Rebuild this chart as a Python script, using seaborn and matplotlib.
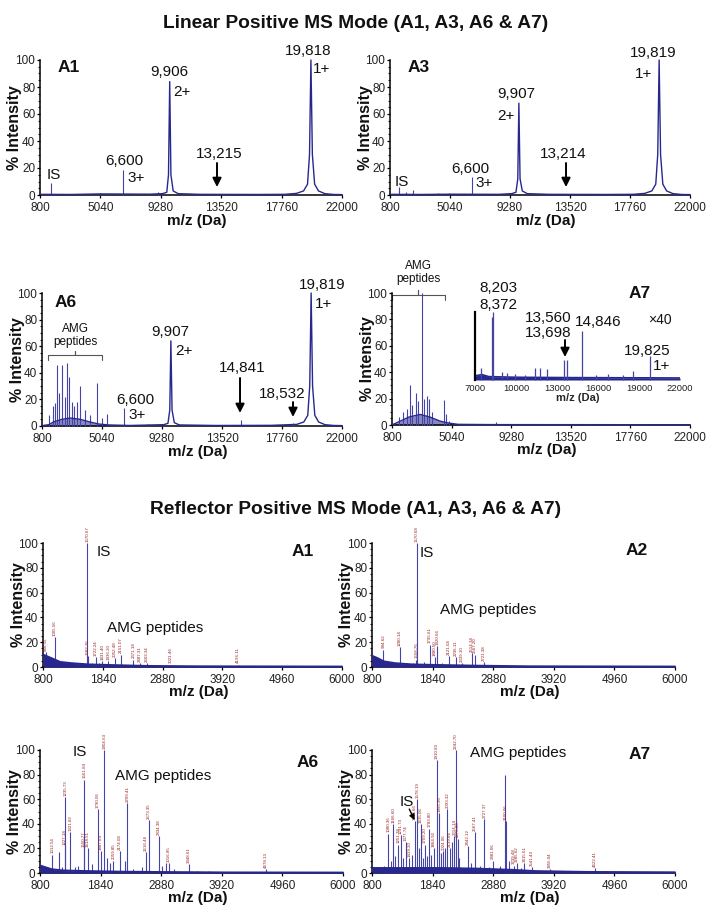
import matplotlib
matplotlib.use("Agg")
import matplotlib.pyplot as plt
from matplotlib.ticker import MultipleLocator, FixedLocator
import seaborn as sns

# ------------------------------------------------------------------ data
lin_xticks = [800, 5040, 9280, 13520, 17760, 22000]
ref_xticks = [800, 1840, 2880, 3920, 4960, 6000]
inset_xticks = [7000, 10000, 13000, 16000, 19000, 22000]
y_ticks = [0, 20, 40, 60, 80, 100]

# Linear mode, A1
lin_a1_prof_mz = [800, 3000, 5000, 8500, 9400, 9700, 9820, 9906, 9990, 10150, 10500, 12000, 16000,
                  18000, 18800, 19300, 19580, 19720, 19818, 19920, 20080, 20350, 20800, 21400, 22000]
lin_a1_prof_int = [0.5, 0.4, 0.8, 0.6, 1, 2, 15, 84, 15, 3, 1, 0.5, 0.4,
                   0.5, 1.2, 3, 8, 30, 100, 30, 8, 3, 1, 0.4, 0.3]
lin_a1_stick_mz = [1570, 5040, 6600, 9050, 13215]
lin_a1_stick_int = [9, 1.5, 18.5, 2, 1]

# Linear mode, A3
lin_a3_prof_mz = [800, 3000, 5000, 8500, 9400, 9700, 9830, 9907, 9990, 10150, 10500, 12000, 16000,
                  18000, 18800, 19300, 19580, 19720, 19819, 19920, 20080, 20350, 20800, 21400, 22000]
lin_a3_prof_int = [0.5, 0.4, 0.6, 0.5, 1, 2, 12, 68, 12, 3, 1, 0.5, 0.4,
                   0.5, 1.2, 3, 8, 30, 100, 30, 8, 3, 1, 0.4, 0.3]
lin_a3_stick_mz = [1436, 1900, 2425, 4200, 5000, 6600, 13214]
lin_a3_stick_int = [6, 2.5, 4, 1.2, 1.2, 13.5, 1]

# Linear mode, A6
lin_a6_prof_mz = [800, 1300, 1600, 2200, 2800, 3500, 4200, 4800, 5500, 7000, 9400, 9700, 9830, 9907,
                  9990, 10150, 10500, 13000, 17000, 18800, 19300, 19580, 19720, 19819, 19920, 20080,
                  20350, 20800, 21400, 22000]
lin_a6_prof_int = [0.3, 1, 3, 5, 6, 5, 3, 1.5, 0.8, 0.4, 1, 2, 12, 64,
                   12, 2.5, 0.8, 0.4, 0.5, 1.2, 3, 8, 30, 100, 30, 8,
                   3, 1, 0.4, 0.3]
lin_a6_stick_mz = [1316, 1600, 1718, 1882, 2024, 2192, 2425, 2542, 2708, 2897, 3061, 3250, 3485,
                   3839, 4192, 4665, 5019, 5372, 6600, 8300, 14841, 18532]
lin_a6_stick_int = [8, 15, 17, 46, 25, 46, 22, 47, 37, 18, 15, 18, 30,
                    12, 8, 32, 6, 9, 13.5, 1.5, 4.5, 2.5]

# Linear mode, A7
lin_a7_prof_mz = [800, 1000, 1400, 2000, 2800, 3500, 4200, 4800, 5500, 8000, 22000]
lin_a7_prof_int = [0.3, 1, 3, 6, 8, 6, 3, 1.5, 0.5, 0.3, 0.2]
lin_a7_stick_mz = [1322, 1606, 1843, 2081, 2199, 2484, 2673, 2911, 3076, 3266, 3432, 3622, 4499,
                   4641, 4879, 8198, 14767]
lin_a7_stick_int = [6, 10, 12, 30, 15, 24, 18, 100, 20, 22, 20, 10, 19,
                    8, 3, 2, 1]

# Linear mode, A7 inset (x40)
inset_base_mz = [7000, 7500, 8000, 10000, 14000, 22000]
inset_base_int = [6, 8, 5, 4, 3.5, 3]
inset_stick_mz = [7417, 8220, 8342, 8951, 9317, 9927, 10659, 11390, 11756, 12293, 13512, 13707,
                  14807, 15854, 16757, 17851, 18538, 19805]
inset_stick_int = [18, 93, 100, 12, 10, 9, 8, 17, 18, 16, 29, 29,
                   72, 7, 9, 7, 13, 36]

# Reflector mode, A1
ref_a1_base_mz = [800, 850, 950, 1100, 1300, 1600, 2000, 2600, 3500, 6000]
ref_a1_base_int = [10, 9, 7, 4, 3, 2, 1.5, 0.8, 0.5, 0.3]
ref_a1_mz = [846.55, 1005.56, 1570.67, 1582.76, 1722.24, 1831.40, 1936.20, 2052.48, 2151.07,
             2371.18, 2487.31, 2603.34, 3021.46, 4196.11]
ref_a1_int = [12, 24, 100, 9, 8, 5, 5, 7, 10, 6, 3, 3, 2, 2]
ref_a1_minor_mz = [900, 1100, 1200, 1300, 1400, 1500, 1650, 1780, 1880, 2000, 2250, 2700, 3300,
                   3700, 4500, 5200]
ref_a1_minor_int = [6, 3.5, 3, 3, 2.5, 3, 3, 3, 2.5, 2, 2, 1.2, 1, 0.8, 0.6, 0.5]

# Reflector mode, A2
ref_a2_base_mz = [800, 900, 1000, 1200, 1500, 2000, 2600, 3500, 6000]
ref_a2_base_int = [9, 7, 4.5, 3, 2, 1.5, 1, 0.5, 0.3]
ref_a2_mz = [994.62, 1280.14, 1558.76, 1570.68, 1795.61, 1880.50, 1920.66, 2121.04, 2236.11,
             2339.10, 2514.34, 2567.20, 2721.38]
ref_a2_int = [14, 16, 6, 100, 18, 8, 17, 9, 8, 3, 11, 10, 4]
ref_a2_minor_mz = [900, 1100, 1200, 1400, 1500, 1700, 2000, 2400, 2800, 3100, 3500, 4200, 5000]
ref_a2_minor_int = [5, 3, 3, 3, 3, 4, 3, 2, 1.5, 1, 0.8, 0.8, 0.5]

# Reflector mode, A6
ref_a6_base_mz = [800, 900, 1000, 1200, 1600, 2200, 3000, 4000, 6000]
ref_a6_base_int = [6, 4.5, 3, 2, 1.5, 1, 0.7, 0.4, 0.3]
ref_a6_mz = [1012.54, 1227.18, 1235.73, 1321.82, 1550.77, 1561.84, 1618.51, 1790.06, 1847.64,
             1904.63, 2059.85, 2174.08, 2299.41, 2616.46, 2673.35, 2834.38, 3016.85, 3348.61,
             4678.13]
ref_a6_int = [15, 22, 62, 33, 20, 76, 20, 52, 18, 100, 10, 18, 57, 17, 43, 30, 8, 7, 3]
ref_a6_minor_mz = [1121, 1180, 1400, 1450, 1700, 1950, 2000, 2260, 2400, 2550, 2900, 2960, 3100,
                   3500, 3700, 4000, 5000]
ref_a6_minor_int = [17, 5, 5, 6, 7, 12, 8, 10, 3, 5, 6, 8, 3, 2, 1.5, 1, 0.8]

# Reflector mode, A7
ref_a7_base_mz = [800, 1200, 2000, 2600, 3200, 3600, 4500, 6000]
ref_a7_base_int = [4, 4, 4, 3.5, 2.5, 1.5, 0.8, 0.5]
ref_a7_mz = [1080.36, 1166.60, 1251.78, 1291.73, 1377.74, 1439.20, 1538.66, 1578.19, 1635.06,
             1709.20, 1783.80, 1864.92, 1910.83, 1955.36, 2024.06, 2093.32, 2139.66, 2214.14,
             2242.70, 2276.06, 2442.12, 2567.41, 2727.37, 2881.06, 3100.06, 3239.48,
             3285.62, 3415.61, 3541.43, 3855.04, 4622.41]
ref_a7_int = [32, 40, 23, 31, 25, 12, 42, 60, 40, 23, 36, 20, 92, 49, 18, 52, 20, 30,
              100, 28, 22, 33, 44, 10, 42, 6, 8, 8, 5, 3, 4]
ref_a7_minor_mz = [1000, 1120, 1200, 1330, 1480, 1600, 1680, 1740, 1820, 1990, 2060, 2180, 2300,
                   2500, 2650, 2800, 3000, 3085, 3150, 3350, 3700, 4000, 4300, 5000]
ref_a7_minor_int = [6, 10, 14, 12, 15, 20, 12, 14, 15, 16, 20, 25, 12, 8, 6, 5, 6, 80, 10, 4, 2,
                    2, 1.5, 1]

# ------------------------------------------------------------------ style
sns.set_theme(style="ticks")
plt.rcParams['font.family'] = ['Liberation Sans', 'DejaVu Sans']
plt.rcParams['axes.linewidth'] = 1.1

NAVY = '#27278f'
PEAK = '#4444a6'
LABEL_RED = '#9a2020'

W, H = 712, 910
fig = plt.figure(figsize=(W / 100, H / 100), dpi=100)


def box(l, r, t, b):
    return [l / W, 1 - b / H, (r - l) / W, (b - t) / H]


def setup(ax, xlim, xticks, xlab_y, ylab_x=-0.058):
    ax.set_xlim(*xlim)
    ax.set_ylim(0, 100)
    ax.xaxis.set_major_locator(FixedLocator(xticks))
    ax.set_xticklabels([str(v) for v in xticks])
    ax.yaxis.set_major_locator(FixedLocator(y_ticks))
    ax.yaxis.set_minor_locator(MultipleLocator(5))
    ax.tick_params(axis='both', which='major', labelsize=8.5, length=2.5, width=0.9, pad=1,
                   colors='black', labelcolor='#222222')
    ax.tick_params(axis='x', which='major', pad=2.5)
    ax.tick_params(axis='y', which='minor', length=1.8, width=0.8)
    ax.tick_params(axis='x', which='minor', length=0)
    for s in ('top', 'right'):
        ax.spines[s].set_visible(False)
    for s in ('left', 'bottom'):
        ax.spines[s].set_color('black')
    ax.set_facecolor('white')
    ax.set_xlabel('m/z (Da)', fontsize=11, fontweight='bold', color='#111111')
    ax.set_ylabel('% Intensity', fontsize=11.5, fontweight='bold', color='#111111')
    ax.xaxis.set_label_coords(0.52, xlab_y)
    ax.yaxis.set_label_coords(ylab_x, 0.5)


def sticks(ax, mz, inten, color=PEAK, lw=0.8):
    ax.vlines(mz, 0, inten, colors=color, lw=lw, clip_on=False, zorder=3)


def profile(ax, mz, inten, lw=1.0, fill=False, fill_below=None):
    sns.lineplot(x=mz, y=inten, ax=ax, color=NAVY, lw=lw, estimator=None, sort=False,
                 legend=False, zorder=4)
    if fill:
        ax.fill_between(mz, inten, color=NAVY, lw=0, zorder=4)
    if fill_below is not None:
        ax.fill_between(mz, inten, where=[m <= fill_below for m in mz], color=NAVY,
                        alpha=0.55, lw=0, zorder=2)
    for ln in ax.lines:
        ln.set_clip_on(False)


def arrow(ax, x, y0, y1, lw=1.4, ms=13):
    ax.annotate('', xy=(x, y1), xytext=(x, y0),
                arrowprops=dict(arrowstyle='-|>', color='black', lw=lw, mutation_scale=ms,
                                shrinkA=0, shrinkB=0))


def brace(ax, x0, x1, y, h, tip):
    xm = (x0 + x1) / 2
    ax.plot([x0, x0, xm, xm, xm, x1, x1], [y - h, y, y, y + tip, y, y, y - h],
            color='#555555', lw=0.8, clip_on=False)


def t(ax, x, y, s, size=11, ha='center', bold=False, **kw):
    ax.text(x, y, s, fontsize=size, ha=ha, va='center', clip_on=False,
            fontweight='bold' if bold else 'normal', color='#111111', **kw)


def ref_labels(ax, mz, inten):
    for m, v in zip(mz, inten):
        ax.text(m, v + 1, f"{m:.2f}", rotation=90, fontsize=3.2, color=LABEL_RED,
                ha='center', va='bottom', clip_on=False)


# ------------------------------------------------------------------ titles
fig.text(0.5, 1 - 23 / H, 'Linear Positive MS Mode (A1, A3, A6 & A7)', ha='center', va='center',
         fontsize=13.8, fontweight='bold', color='#111111')
fig.text(0.5, 1 - 510 / H, 'Reflector Positive MS Mode (A1, A3, A6 & A7)', ha='center',
         va='center', fontsize=13.8, fontweight='bold', color='#111111')

LIN = (800, 22000)
REF = (800, 6000)

# ---- Linear A1
ax = fig.add_axes(box(40, 342, 60, 195))
setup(ax, LIN, lin_xticks, -0.14)
sticks(ax, lin_a1_stick_mz, lin_a1_stick_int)
profile(ax, lin_a1_prof_mz, lin_a1_prof_int)
t(ax, 2064, 94.8, 'A1', 12.5, 'left', True)
t(ax, 1291, 14.8, 'IS', 11, 'left')
t(ax, 6697, 25.2, '6,600')
t(ax, 6907, 12.6, '3+', 11, 'left')
t(ax, 9856, 91, '9,906')
t(ax, 10137, 76.3, '2+', 11, 'left')
t(ax, 13366, 30.4, '13,215')
arrow(ax, 13225, 23.7, 5.9)
t(ax, 19614, 106.7, '19,818')
t(ax, 19965, 93.4, '1+', 11, 'left')

# ---- Linear A3
ax = fig.add_axes(box(390, 690, 60, 195))
setup(ax, LIN, lin_xticks, -0.14)
sticks(ax, lin_a3_stick_mz, lin_a3_stick_int)
profile(ax, lin_a3_prof_mz, lin_a3_prof_int)
t(ax, 2072, 94.8, 'A3', 12.5, 'left', True)
t(ax, 1153, 9.6, 'IS', 11, 'left')
t(ax, 6453, 19.3, '6,600')
t(ax, 6807, 8.9, '3+', 11, 'left')
t(ax, 9705, 74.8, '9,907')
t(ax, 8362, 58.5, '2+', 11, 'left')
t(ax, 13026, 30.4, '13,214')
arrow(ax, 13238, 23.7, 5.9)
t(ax, 19386, 105, '19,819')
t(ax, 18114, 89.7, '1+', 11, 'left')

# ---- Linear A6
ax = fig.add_axes(box(42, 342, 293, 426))
setup(ax, LIN, lin_xticks, -0.14)
profile(ax, lin_a6_prof_mz, lin_a6_prof_int, fill_below=5500)
sticks(ax, lin_a6_stick_mz, lin_a6_stick_int)
t(ax, 1719, 93.2, 'A6', 12.5, 'left', True)
t(ax, 3132, 68, 'AMG\npeptides', 8.5, linespacing=1.1)
brace(ax, 1224, 5040, 53.4, 4, 3)
t(ax, 7372, 19.6, '6,600')
t(ax, 6877, 8.3, '3+', 11, 'left')
t(ax, 9846, 70.7, '9,907')
t(ax, 10199, 56.4, '2+', 11, 'left')
t(ax, 14934, 43.6, '14,841')
arrow(ax, 14793, 36.1, 9.8)
t(ax, 17761, 24.1, '18,532')
arrow(ax, 18538, 18, 6.8)
t(ax, 20588, 106, '19,819')
t(ax, 20093, 91.7, '1+', 11, 'left')

# ---- Linear A7
ax = fig.add_axes(box(392, 690, 293, 425))
setup(ax, LIN, lin_xticks, -0.14)
profile(ax, lin_a7_prof_mz, lin_a7_prof_int, fill_below=5500)
sticks(ax, lin_a7_stick_mz, lin_a7_stick_int)
t(ax, 2650, 115.5, 'AMG\npeptides', 8.5, linespacing=1.1)
brace(ax, 800, 4570, 98.5, 4, 4)
t(ax, 18443, 100, 'A7', 12.5, 'center', True)

# ---- Inset (x40)
ax = fig.add_axes(box(475, 680, 312, 380))
ax.set_xlim(7000, 22000)
ax.set_ylim(0, 100)
ax.xaxis.set_major_locator(FixedLocator(inset_xticks))
ax.set_xticklabels([str(v) for v in inset_xticks])
ax.set_yticks([])
ax.tick_params(axis='x', length=0, labelsize=6.8, pad=3, labelcolor='#222222')
for s in ('top', 'right', 'bottom'):
    ax.spines[s].set_visible(False)
ax.spines['left'].set_linewidth(1.6)
ax.spines['left'].set_color('black')
ax.set_facecolor('white')
ax.set_xlabel('m/z (Da)', fontsize=8, fontweight='bold', labelpad=0)
sns.lineplot(x=inset_base_mz, y=inset_base_int, ax=ax, color=NAVY, lw=1.2, estimator=None,
             sort=False, legend=False)
ax.fill_between(inset_base_mz, inset_base_int, color=NAVY, lw=0)
sticks(ax, inset_stick_mz, inset_stick_int, color=PEAK, lw=0.9)
t(ax, 8683, 135, '8,203')
t(ax, 8683, 110, '8,372')
t(ax, 12341, 91, '13,560')
t(ax, 12341, 69, '13,698')
arrow(ax, 13585, 58.8, 33.8)
t(ax, 16000, 85, '14,846')
t(ax, 19585, 42.6, '19,825')
t(ax, 20024, 20.6, '1+', 11, 'left')
t(ax, 20537, 88, '\u00d740', 10)

# ---- Reflector A1
ax = fig.add_axes(box(43, 342, 543, 667))
setup(ax, REF, ref_xticks, -0.145)
sticks(ax, ref_a1_minor_mz, ref_a1_minor_int)
sticks(ax, ref_a1_mz, ref_a1_int)
profile(ax, ref_a1_base_mz, ref_a1_base_int, lw=1.5, fill=True)
ref_labels(ax, ref_a1_mz, ref_a1_int)
t(ax, 1739, 92.7, 'IS', 11, 'left')
t(ax, 1913, 31.4, 'AMG peptides', 11, 'left')
t(ax, 5321, 93.5, 'A1', 12.5, 'center', True)

# ---- Reflector A2
ax = fig.add_axes(box(372, 675, 543, 667))
setup(ax, REF, ref_xticks, -0.145)
sticks(ax, ref_a2_minor_mz, ref_a2_minor_int)
sticks(ax, ref_a2_mz, ref_a2_int)
profile(ax, ref_a2_base_mz, ref_a2_base_int, lw=1.5, fill=True)
ref_labels(ax, ref_a2_mz, ref_a2_int)
t(ax, 1624, 91.9, 'IS', 11, 'left')
t(ax, 1967, 46, 'AMG peptides', 11, 'left')
t(ax, 5347, 94.3, 'A2', 12.5, 'center', True)

# ---- Reflector A6
ax = fig.add_axes(box(40, 343, 750, 873))
setup(ax, REF, ref_xticks, -0.145)
sticks(ax, ref_a6_minor_mz, ref_a6_minor_int)
sticks(ax, ref_a6_mz, ref_a6_int)
profile(ax, ref_a6_base_mz, ref_a6_base_int, lw=1.5, fill=True)
ref_labels(ax, ref_a6_mz, ref_a6_int)
t(ax, 1366, 98.4, 'IS', 11, 'left')
t(ax, 2087, 79, 'AMG peptides', 11, 'left')
t(ax, 5399, 90, 'A6', 12.5, 'center', True)

# ---- Reflector A7
ax = fig.add_axes(box(372, 675, 750, 873))
setup(ax, REF, ref_xticks, -0.145)
sticks(ax, ref_a7_minor_mz, ref_a7_minor_int)
sticks(ax, ref_a7_mz, ref_a7_int)
profile(ax, ref_a7_base_mz, ref_a7_base_int, lw=1.5, fill=True)
ref_labels(ax, ref_a7_mz, ref_a7_int)
t(ax, 1280, 58, 'IS', 11, 'left')
ax.annotate('', xy=(1530, 43), xytext=(1440, 52),
            arrowprops=dict(arrowstyle='-|>', color='black', lw=1.0, mutation_scale=8,
                            shrinkA=0, shrinkB=0))
t(ax, 2482, 97.6, 'AMG peptides', 11, 'left')
t(ax, 5399, 96, 'A7', 12.5, 'center', True)

fig.savefig('out.png', dpi=100, facecolor='white')
